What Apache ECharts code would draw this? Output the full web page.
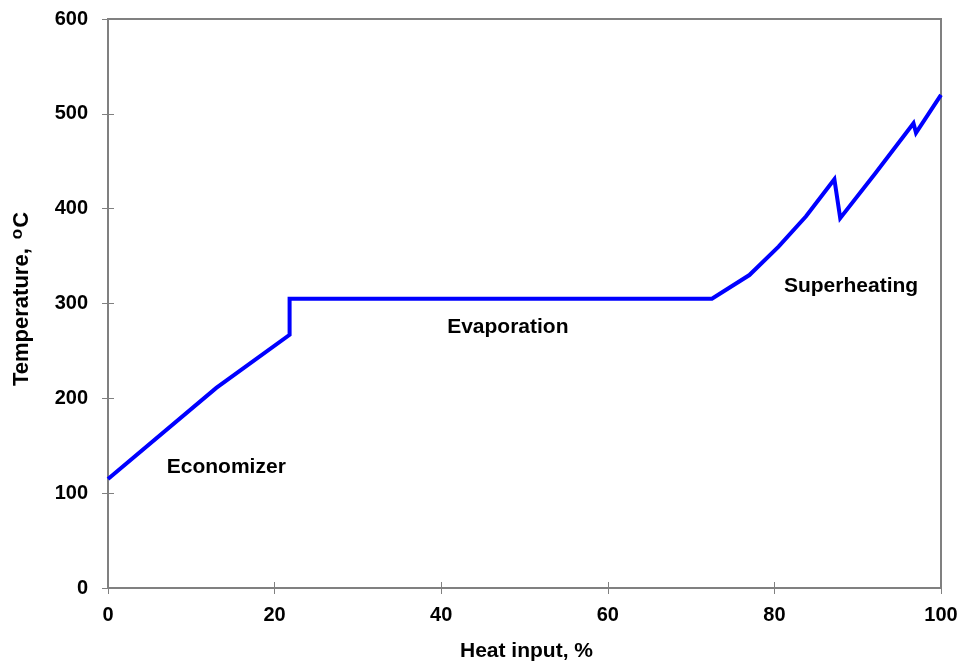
<!DOCTYPE html>
<html>
<head>
<meta charset="utf-8">
<script src="https://cdn.jsdelivr.net/npm/echarts@6/dist/echarts.min.js"></script>
<style>
  html, body { margin: 0; padding: 0; background: #fff; }
  #chart { width: 963px; height: 661px; }
</style>
</head>
<body>
<div id="chart"></div>
<script>
// Water/steam temperature profile versus cumulative heat input
const heatInput   = [0, 13, 21.8, 21.8, 72.5, 77, 80.5, 83.8, 87.2, 87.9, 92.1, 96.7, 97.0, 100];
const temperature = [115, 211, 267, 305, 305, 330, 360, 392, 431, 390, 437, 490, 480, 520];

const xTicks = [0, 20, 40, 60, 80, 100];
const yTicks = [0, 100, 200, 300, 400, 500, 600];

// Section names and where they sit on the plot (data coordinates)
const sectionNames = ['Economizer', 'Evaporation', 'Superheating'];
const sectionAnchorX = [14.2, 48.0, 89.2];
const sectionAnchorY = [127, 275, 318];

const FONT = '"Liberation Sans", Arial, sans-serif';
const AXIS_GRAY = '#808080';

const chart = echarts.init(document.getElementById('chart'), null, { renderer: 'canvas' });

const baseX = {
  type: 'value', min: xTicks[0], max: xTicks[xTicks.length - 1], interval: 20,
  splitLine: { show: false }
};
const baseY = {
  type: 'value', min: yTicks[0], max: yTicks[yTicks.length - 1], interval: 100,
  splitLine: { show: false }
};

chart.setOption({
  animation: false,
  backgroundColor: '#ffffff',
  grid: {
    left: 108, right: 22, top: 19, bottom: 73,
    show: true, borderColor: AXIS_GRAY, borderWidth: 2, backgroundColor: 'transparent'
  },
  xAxis: [
    Object.assign({}, baseX, {
      position: 'bottom',
      axisLine: { show: true, lineStyle: { color: AXIS_GRAY, width: 2 } },
      axisTick: { show: true, length: 6, inside: false, lineStyle: { color: AXIS_GRAY, width: 1 } },
      axisLabel: { show: true, color: '#000', fontFamily: FONT, fontWeight: 'bold', fontSize: 20, margin: 17 }
    }),
    Object.assign({}, baseX, {
      position: 'bottom',
      axisLine: { show: false },
      axisTick: { show: true, length: 6, inside: true, lineStyle: { color: AXIS_GRAY, width: 1 } },
      axisLabel: { show: false }
    })
  ],
  yAxis: [
    Object.assign({}, baseY, {
      position: 'left',
      axisLine: { show: true, lineStyle: { color: AXIS_GRAY, width: 2 } },
      axisTick: { show: true, length: 6, inside: false, lineStyle: { color: AXIS_GRAY, width: 1 } },
      axisLabel: { show: true, color: '#000', fontFamily: FONT, fontWeight: 'bold', fontSize: 20, margin: 20 }
    }),
    Object.assign({}, baseY, {
      position: 'left',
      axisLine: { show: false },
      axisTick: { show: true, length: 6, inside: true, lineStyle: { color: AXIS_GRAY, width: 1 } },
      axisLabel: { show: false }
    })
  ],
  series: [
    {
      type: 'line',
      xAxisIndex: 0, yAxisIndex: 0,
      data: heatInput.map((x, i) => [x, temperature[i]]),
      showSymbol: false,
      symbol: 'none',
      lineStyle: { color: '#0000ff', width: 4, join: 'miter' },
      z: 3
    },
    {
      type: 'scatter',
      xAxisIndex: 0, yAxisIndex: 0,
      symbolSize: 0,
      itemStyle: { opacity: 1, color: 'rgba(0,0,0,0)' },
      data: sectionNames.map((n, i) => ({ value: [sectionAnchorX[i], sectionAnchorY[i]], name: n })),
      label: {
        show: true, position: 'inside', formatter: p => p.name,
        color: '#000', fontFamily: FONT, fontWeight: 'bold', fontSize: 21
      },
      silent: true,
      z: 4
    }
  ],
  graphic: [
    {
      type: 'text', left: 460, top: 641,
      style: { text: 'Heat input, %', fill: '#000', font: 'bold 21px ' + FONT }
    },
    {
      type: 'text', x: 9, y: 386, rotation: Math.PI / 2,
      style: {
        text: '{a|Temperature, }{s|o}{a|C}',
        rich: {
          a: { fill: '#000', fontFamily: FONT, fontWeight: 'bold', fontSize: 22 },
          s: { fill: '#000', fontFamily: FONT, fontWeight: 'bold', fontSize: 17, verticalAlign: 'top', padding: [0, 1, 8, 3] }
        }
      }
    }
  ]
});
</script>
</body>
</html>
